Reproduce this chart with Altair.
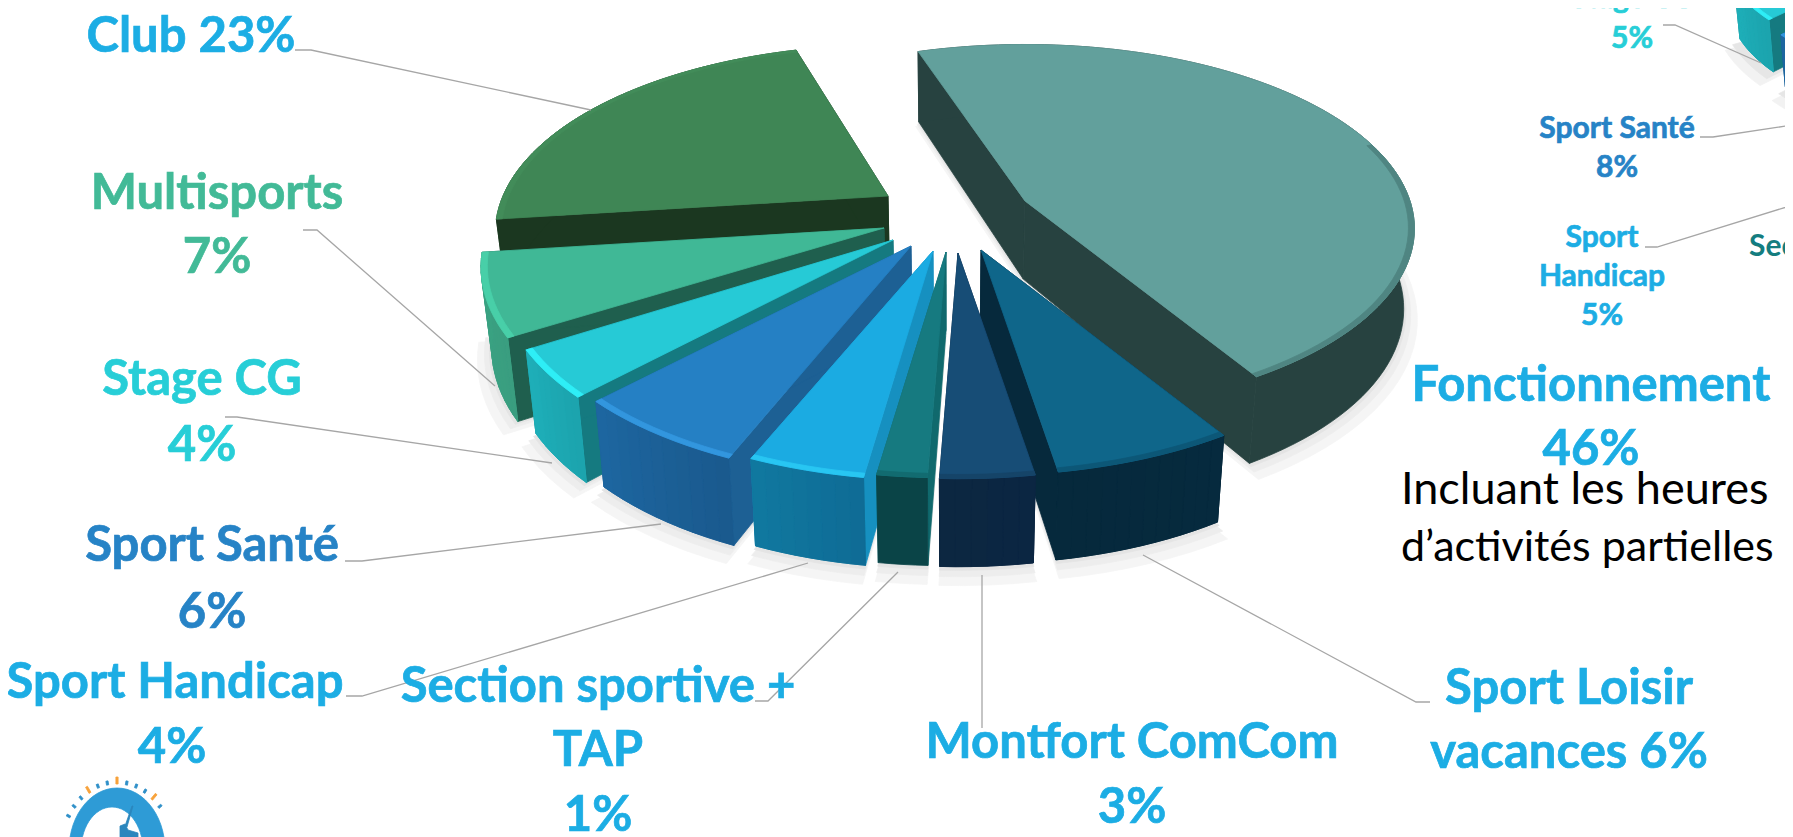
import math
import altair as alt
import pandas as pd

# ---- data -----------------------------------------------------------------
slice_names = ["Fonctionnement", "Sport Loisir vacances", "Montfort ComCom", "Section sportive + TAP",
               "Sport Handicap", "Sport Santé", "Stage CG", "Multisports", "Club"]
shares = [45.8, 6.2, 3.2, 1.7, 4.0, 6.1, 3.9, 6.7, 22.4]

# ---- layout / style --------------------------------------------------------
W, H = 1777, 829
first_angle = -16.5
turn_first = -2.0
apex_x = [1025, 981, 958, 946, 933, 911, 893, 884, 888]
apex_y = [201, 250, 253, 252, 251, 246, 240, 228, 196]
persp = [0.15, 0.198, 0.198, 0.198, 0.198, 0.198, 0.198, 0.198, 0.198]
minor = [180, 181, 181, 181, 184, 188, 190, 190, 181]
major = [385, 385, 385, 385, 385, 385, 385, 395, 385]
bev_from = [70, 0, 0, 0, 0, 0, 0, 0, 0]
top_col = ["#62A09C", "#0F668A", "#174D76", "#167A80", "#1BABE2", "#2580C4", "#26CAD6", "#40B896", "#3F8655"]
bev_col = ["#4F8582", "#0C5777", "#154468", "#126B70", "#28C6F2", "#3296DE", "#2EEEF6", "#48CFA8", "#428C59"]
rim_a = ["#274240", "#06293C", "#0C2741", "#0A4447", "#10789F", "#1D66A0", "#1EAEB8", "#3AA282", "#1B3720"]
rim_b = ["#274240", "#062A3E", "#0B2642", "#0A4447", "#0F6C96", "#1A5A8E", "#1CA4AE", "#3A9E80", "#1B3720"]
rad_col = ["#274240", "#06293C", "#0C2741", "#10696D", "#1690C0", "#1D6094", "#157A80", "#1F5F4E", "#1B3720"]
draw_order = [8, 0, 7, 6, 5, 4, 3, 1, 2]
XC = 950.0

rows = []
pid = 0


def poly(points, colour):
    global pid
    pid += 1
    for k, (a, b) in enumerate(points):
        rows.append({"x": a, "y": b, "pid": pid, "k": k, "c": colour})


def top_pt(th, ax, ay, s=1.0, r=1.0, p=0.198, mn=181.0, mj=385.0):
    u, v = math.sin(math.radians(th)) * r, -math.cos(math.radians(th)) * r
    g = 1 / (1 - p * v)
    return ax + s * mj * u * g, ay + s * mn * v * g


def low_pt(pt, v, s, xc):
    d = (79 + 9 * v) * s
    return xc + (pt[0] - xc) * 0.977, pt[1] + d


def blend(c1, c2, t):
    a = [int(c1[i:i + 2], 16) for i in (1, 3, 5)]
    b = [int(c2[i:i + 2], 16) for i in (1, 3, 5)]
    return "#%02x%02x%02x" % tuple(round(p + (q - p) * t) for p, q in zip(a, b))


def arc(t0, t1, step=2.0):
    n = max(2, int(abs(t1 - t0) / step) + 1)
    return [t0 + (t1 - t0) * i / n for i in range(n + 1)]


def shadow(t0, t1, ax, ay, s, xc, grow, dy, colour, p=0.198, mn=181.0, mj=385.0):
    pts = [low_pt((ax, ay), 0, s, xc)]
    pts[0] = (pts[0][0], pts[0][1] + dy * s)
    for th in arc(t0, t1, 3):
        v = -math.cos(math.radians(th))
        p_ = low_pt(top_pt(th, ax, ay, s, grow, p, mn, mj), v, s, xc)
        pts.append((p_[0], p_[1] + dy * s))
    poly(pts, colour)


def body(t0, t1, ax, ay, s, xc, top, bev, ca, cb, rad, p=0.198, mn=181.0, mj=385.0, bf=0):
    ap = (ax, ay)
    apl = low_pt(ap, -0.1, s, xc)
    for th in (t0, t1):
        v = -math.cos(math.radians(th))
        pt = top_pt(th, ax, ay, s, 1.0, p, mn, mj)
        poly([ap, pt, low_pt(pt, v, s, xc), apl], rad)
    ths = arc(t0, t1)
    upper = [top_pt(t, ax, ay, s, 1.0, p, mn, mj) for t in ths]
    lower = [low_pt(q, -math.cos(math.radians(t)), s, xc) for q, t in zip(upper, ths)]
    poly(upper + lower[::-1], ca)
    if ca != cb:
        for i in range(len(ths) - 1):
            poly([upper[i], upper[i + 1], lower[i + 1], lower[i]], blend(cb, ca, i / max(1, len(ths) - 2)))
    poly([ap] + upper, top)
    band = [t for t in ths if t >= bf]
    poly([top_pt(t, ax, ay, s, 1.0, p, mn, mj) for t in band]
         + [top_pt(t, ax, ay, s, 0.985, p, mn, mj) for t in reversed(band)], bev)


spans, cur = [], first_angle
tot = sum(shares)
for n_, v_ in enumerate(shares):
    spans.append((cur + (turn_first if n_ == 0 else 0), cur + v_ / tot * 360))
    cur += v_ / tot * 360

for grow, dy, col in ((1.035, 9, "#F5F5F5"), (1.018, 5, "#EDEDED"), (1.006, 2, "#E4E4E4")):
    for i in draw_order:
        shadow(spans[i][0], spans[i][1], apex_x[i], apex_y[i], 1.0, XC, grow, dy, col, persp[i], minor[i], major[i])
for i in draw_order:
    body(spans[i][0], spans[i][1], apex_x[i], apex_y[i], 1.0, XC,
         top_col[i], bev_col[i], rim_a[i], rim_b[i], rad_col[i], persp[i], minor[i], major[i], bev_from[i])

# second small pie, cut by the right-hand edge of the picture
inset_scale = 0.61
for ax_, ay_, t0_, t1_, i in ((1962, -71, 225, 241, 6), (1974, -56, 195, 225, 5)):
    for grow, dy, col in ((1.06, 12, "#F2F2F2"), (1.03, 6, "#E6E6E6")):
        shadow(t0_, t1_, ax_, ay_, inset_scale, ax_, grow, dy, col)
    body(t0_, t1_, ax_, ay_, inset_scale, ax_, top_col[i], bev_col[i], rim_a[i], rim_b[i], rad_col[i])

# small logo at the bottom-left corner
logo_x, logo_y = 117, 850
arch = [(logo_x + 48 * math.cos(math.radians(t)), logo_y - 62 * math.sin(math.radians(t))) for t in range(0, 181, 6)]
arch += [(logo_x - 5 + 31 * math.cos(math.radians(t)), logo_y - 43 * math.sin(math.radians(t))) for t in range(180, -1, -6)]
poly(arch, "#2E9BD6")
for n, t in enumerate(range(150, 30, -10)):
    c_ = math.cos(math.radians(t))
    s_ = math.sin(math.radians(t))
    orange = t in (120, 90, 50)
    ro = 7 if orange else 4
    a1, a2 = (logo_x + 54 * c_, logo_y - 66 * s_), (logo_x + (54 + ro) * c_, logo_y - (66 + ro) * s_)
    nx, ny = -s_ * 1.1, -c_ * 1.1
    poly([(a1[0] + nx, a1[1] + ny), (a2[0] + nx, a2[1] + ny), (a2[0] - nx, a2[1] - ny), (a1[0] - nx, a1[1] - ny)],
         "#F7A23B" if orange else "#2E8FC8")
poly([(120, 837), (120, 826), (125, 824), (128, 830), (138, 833), (138, 837)], "#2B86BD")
poly([(125, 826), (132, 806), (133, 806), (127, 827)], "#2B86BD")

polys = pd.DataFrame(rows)

leader_x = [[295, 311, 591], [303, 317, 495], [225, 237, 552], [345, 362, 661], [346, 362, 808],
            [755, 768, 898], [982, 982], [1143, 1416, 1430], [1663, 1675, 1761], [1700, 1713, 1793], [1645, 1657, 1793]]
leader_y = [[50, 50, 110], [230, 230, 386], [417, 417, 463], [561, 561, 524], [696, 696, 563],
            [701, 701, 572], [575, 728], [555, 702, 702], [25, 25, 63], [137, 137, 125], [247, 247, 205]]
lead = pd.DataFrame([{"x": a, "y": b, "g": g, "k": k}
                     for g, (xs, ys) in enumerate(zip(leader_x, leader_y))
                     for k, (a, b) in enumerate(zip(xs, ys))])

BLUE, SANTE, CYAN, GREEN, TEAL = "#1CADE4", "#2683C6", "#27CED7", "#42BA97", "#147D7F"
big = 49
small = 30
label_text = ["Club 23%", "Multisports", "7%", "Stage CG", "4%", "Sport Santé", "6%", "Sport Handicap", "4%",
              "Section sportive +", "TAP", "1%", "Montfort ComCom", "3%", "Sport Loisir", "vacances 6%",
              "Fonctionnement", "46%",
              "Stage CG", "5%", "Sport Santé", "8%", "Sport", "Handicap", "5%"]
label_x = [191, 217, 217, 202, 202, 212, 212, 175, 172, 598, 598, 598, 1132, 1132, 1569, 1569, 1591, 1591,
           1632, 1632, 1617, 1617, 1602, 1602, 1602]
label_y = [52, 209, 273, 395, 461, 561, 628, 698, 763, 702, 766, 831, 758, 823, 704, 768, 401, 465,
           8, 48, 138, 177, 247, 286, 325]
label_col = [BLUE, GREEN, GREEN, CYAN, CYAN, SANTE, SANTE, BLUE, BLUE, BLUE, BLUE, BLUE, BLUE, BLUE, BLUE, BLUE,
             BLUE, BLUE, CYAN, CYAN, SANTE, SANTE, BLUE, BLUE, BLUE]
label_size = [big] * 18 + [small] * 7
labels = pd.DataFrame({"t": label_text, "x": label_x, "y": label_y, "c": label_col, "s": label_size})

note_text = ["Incluant les heures", "d’activités partielles"]
note_x = [1401, 1401]
note_y = [504, 561]
note_size = [45, 43]

xs = alt.X("x:Q", scale=alt.Scale(domain=[8, 8 + W], nice=False, zero=False), axis=None)
ys = alt.Y("y:Q", scale=alt.Scale(domain=[8 + H, 8], nice=False, zero=False), axis=None)

shapes = alt.Chart(polys).mark_line(interpolate="linear-closed", strokeWidth=0.8, clip=True, filled=True).encode(
    x=xs, y=ys, order="k:Q", detail="pid:N",
    fill=alt.Fill("c:N", scale=None), stroke=alt.Stroke("c:N", scale=None))
leaders = alt.Chart(lead).mark_line(color="#A6A6A6", strokeWidth=1.3, clip=True).encode(
    x=xs, y=ys, order="k:Q", detail="g:N")
txt = alt.Chart(labels).mark_text(font="Lato", fontWeight="bold", align="center", baseline="alphabetic",
                                  strokeWidth=0.7, clip=True).encode(
    x=xs, y=ys, text="t:N", color=alt.Color("c:N", scale=None), stroke=alt.Stroke("c:N", scale=None),
    size=alt.Size("s:Q", scale=None))
sec = alt.Chart(pd.DataFrame({"t": ["Section sportive"], "x": [1749], "y": [256]})).mark_text(
    font="Lato", fontWeight="bold", align="left", baseline="alphabetic", fontSize=small, color=TEAL, clip=True).encode(
    x=xs, y=ys, text="t:N")
note = alt.Chart(pd.DataFrame({"t": note_text, "x": note_x, "y": note_y, "s": note_size})).mark_text(
    font="Lato", align="left", baseline="alphabetic", color="#000000", clip=True).encode(
    x=xs, y=ys, text="t:N", size=alt.Size("s:Q", scale=None))

chart = alt.layer(shapes, leaders, txt, sec, note).properties(
    width=W, height=H, padding=0, autosize=alt.AutoSizeParams(type="none")
).configure_view(stroke=None)
chart.save("out.html", embed_options={"renderer": "svg", "actions": False})
